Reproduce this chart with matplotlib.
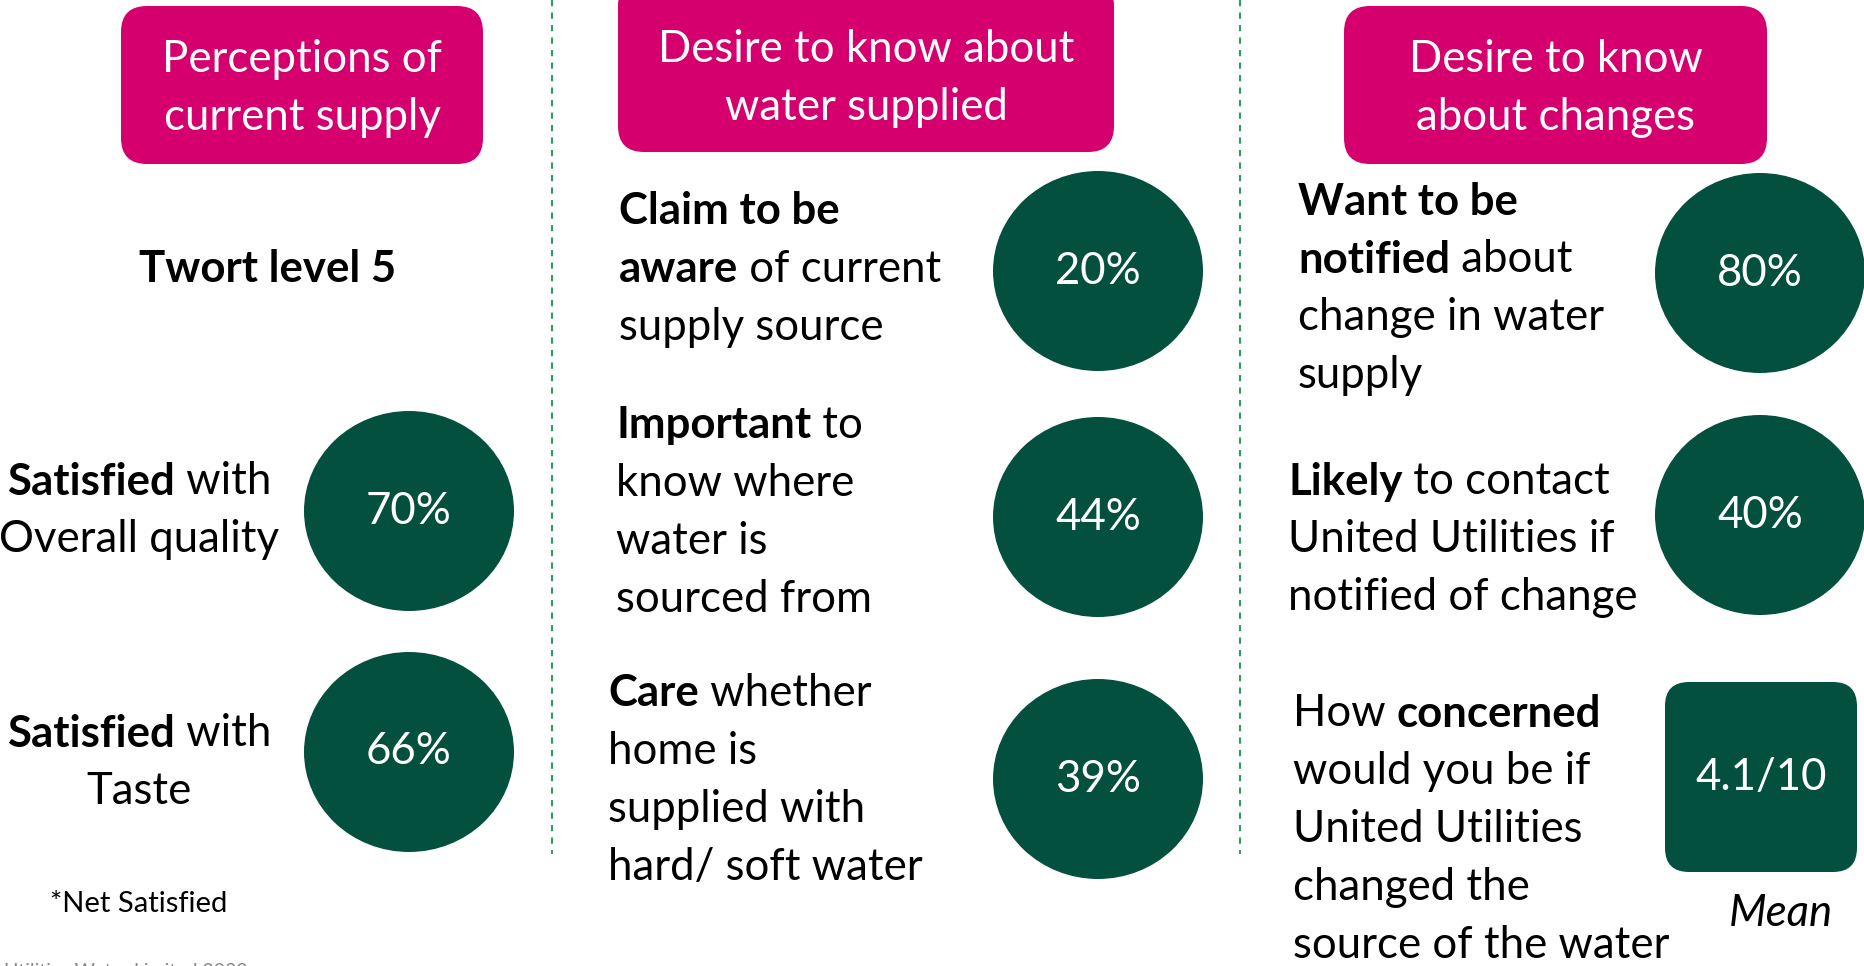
import re
import matplotlib
matplotlib.use("Agg")
import matplotlib.pyplot as plt
from matplotlib.patches import Ellipse, FancyBboxPatch

# ---- data ----
headers = ["Perceptions of\ncurrent supply",
           "Desire to know about\nwater supplied",
           "Desire to know\nabout changes"]
col1_title = "Twort level 5"
col1_labels = [["**Satisfied** with", "Overall quality"],
               ["**Satisfied** with", "Taste"]]
col1_values = ["70%", "66%"]
col2_labels = [["**Claim to be**", "**aware** of current", "supply source"],
               ["**Important** to", "know where", "water is", "sourced from"],
               ["**Care** whether", "home is", "supplied with", "hard/ soft water"]]
col2_values = ["20%", "44%", "39%"]
col3_labels = [["**Want to be**", "**notified** about", "change in water", "supply"],
               ["**Likely** to contact", "United Utilities if", "notified of change"],
               ["How **concerned**", "would you be if", "United Utilities",
                "changed the", "source of the water"]]
col3_values = ["80%", "40%"]
mean_value = "4.1/10"
footnote = "*Net Satisfied"
footer = "Utilities Water Limited 2022"

# ---- style ----
PINK = "#D5006D"
GREEN = "#04503F"
DASH = "#2E9E5B"
FONT = "Lato"
FS = 31.5

fig = plt.figure(figsize=(18.65, 9.66), dpi=100)
ax = fig.add_axes([0, 0, 1, 1])
ax.set_xlim(0, 1865)
ax.set_ylim(966, 0)
ax.axis("off")
renderer = fig.canvas.get_renderer()


def seg_width(s, weight, size):
    # pad with x so spaces are counted
    fp = matplotlib.font_manager.FontProperties(family=FONT, weight=weight, size=size)
    w1 = renderer.get_text_width_height_descent("x" + s + "x", fp, ismath=False)[0]
    w0 = renderer.get_text_width_height_descent("xx", fp, ismath=False)[0]
    return w1 - w0


def rich_line(x, y, line, ha="left", size=FS, color="black"):
    parts = [p for p in re.split(r"(\*\*.*?\*\*)", line) if p]
    segs = []
    for p in parts:
        if p.startswith("**"):
            segs.append((p[2:-2], "bold"))
        else:
            segs.append((p, "normal"))
    total = sum(seg_width(s, w, size) for s, w in segs)
    if ha == "center":
        x = x - total / 2
    for s, w in segs:
        ax.text(x, y, s, fontsize=size, fontweight=w, family=FONT, color=color,
                ha="left", va="center")
        x += seg_width(s, w, size)


def header(x0, y0, x1, y1, text, ty):
    box = FancyBboxPatch((x0, y0), x1 - x0, y1 - y0,
                         boxstyle="round,pad=0,rounding_size=26",
                         fc=PINK, ec="none")
    ax.add_patch(box)
    cx = (x0 + x1) / 2
    for i, ln in enumerate(text.split("\n")):
        ax.text(cx, ty + i * 58, ln, fontsize=FS,
                family=FONT, color="white", ha="center", va="center")


def bubble(cx, cy, val):
    ax.add_patch(Ellipse((cx, cy), 210, 200, fc=GREEN, ec="none"))
    ax.text(cx, cy, val, fontsize=FS, family=FONT, color="white",
            ha="center", va="center")


# dashed dividers
for xd in [552, 1240]:
    ax.plot([xd, xd], [0, 854], color=DASH, lw=1.5, ls=(0, (3, 3)))

# headers
header(121, 6, 483, 164, headers[0], 59)
header(618, -20, 1114, 152, headers[1], 49)
header(1344, 6, 1767, 164, headers[2], 60)

# column 1
ax.text(268, 269, col1_title, fontsize=FS, fontweight="bold", family=FONT,
        ha="center", va="center")
col1_y = [[482, 539], [734, 791]]
col1_cy = [511, 752]
for lab, ys, cy, v in zip(col1_labels, col1_y, col1_cy, col1_values):
    for ln, y in zip(lab, ys):
        rich_line(139, y, ln, ha="center")
    bubble(409, cy, v)
ax.text(50, 904, footnote, fontsize=21, family=FONT, ha="left", va="center")
ax.text(4, 963, footer, fontsize=14, family=FONT, color="#888888",
        ha="left", va="top")

# column 2
col2_x = [619, 616, 608]
col2_y0 = [211, 425, 693]
col2_cy = [271, 517, 779]
for lab, x, y0, cy, v in zip(col2_labels, col2_x, col2_y0, col2_cy, col2_values):
    for i, ln in enumerate(lab):
        rich_line(x, y0 + i * 58, ln)
    bubble(1098, cy, v)

# column 3
col3_x = [1298, 1288, 1293]
col3_y0 = [202, 482, 714]
for lab, x, y0 in zip(col3_labels, col3_x, col3_y0):
    for i, ln in enumerate(lab):
        rich_line(x, y0 + i * 58, ln)
for cy, v in zip([273, 515], col3_values):
    bubble(1760, cy, v)

sq = FancyBboxPatch((1665, 682), 192, 190, boxstyle="round,pad=0,rounding_size=24",
                    fc=GREEN, ec="none")
ax.add_patch(sq)
ax.text(1761, 777, mean_value, fontsize=FS, family=FONT, color="white",
        ha="center", va="center")
ax.text(1781, 913, "Mean", fontsize=FS, family=FONT, style="italic",
        ha="center", va="center")

fig.savefig("out.png", dpi=100)
